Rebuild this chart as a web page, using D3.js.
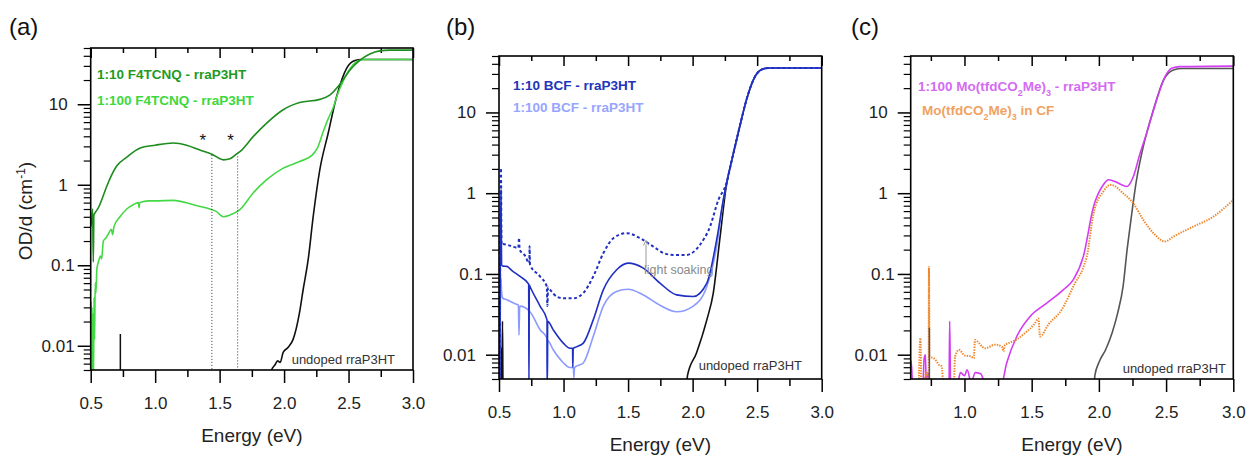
<!DOCTYPE html>
<html>
<head>
<meta charset="utf-8">
<script src="https://cdn.jsdelivr.net/npm/d3@7"></script>
<style>
  body { margin: 0; background: #fff; }
  svg { display: block; font-family: "Liberation Sans", Arial, sans-serif; }
</style>
</head>
<body>
<div id="chart"></div>
<script>
// ---- data: [energy (eV), OD/d (cm^-1)] ; values below 0.005 fall off the axis ----
const yTickValues = [0.01, 0.1, 1, 10];
const yTickLabels = ["0.01", "0.1", "1", "10"];
const xTicksAB = [0.5, 1.0, 1.5, 2.0, 2.5, 3.0];
const xTicksC = [1.0, 1.5, 2.0, 2.5, 3.0];

// (a) F4TCNQ
const f4tcnq10 = [[0.5,0.3],[0.508,0.37],[0.515,0.5],[0.52,0.11],[0.525,0.42],[0.535,0.45],[0.56,0.52],[0.6,0.75],[0.624,0.95],[0.66,1.3],[0.7,1.7],[0.78,2.2],[0.88,2.85],[1.0,3.1],[1.14,3.3],[1.244,3.1],[1.347,2.7],[1.44,2.4],[1.53,2.04],[1.58,2.1],[1.63,2.4],[1.66,2.6],[1.76,3.96],[1.863,5.8],[1.99,8.5],[2.12,10.5],[2.277,11.5],[2.354,13],[2.43,17.5],[2.51,26.5],[2.587,35],[2.665,42],[2.742,46],[2.82,47],[3.0,47]];
const f4tcnq100 = [[0.5,0.004],[0.503,0.035],[0.506,0.004],[0.51,0.03],[0.514,0.004],[0.518,0.025],[0.522,0.004],[0.526,0.04],[0.53,0.012],[0.535,0.06],[0.54,0.045],[0.548,0.09],[0.56,0.11],[0.575,0.13],[0.585,0.12],[0.598,0.2],[0.62,0.22],[0.64,0.25],[0.66,0.28],[0.67,0.24],[0.68,0.3],[0.727,0.4],[0.78,0.5],[0.83,0.565],[0.87,0.6],[0.875,0.52],[0.88,0.6],[0.95,0.63],[1.0,0.63],[1.14,0.64],[1.296,0.565],[1.425,0.5],[1.47,0.47],[1.53,0.4],[1.58,0.42],[1.657,0.49],[1.76,0.79],[1.863,1.15],[1.99,1.6],[2.12,1.94],[2.22,2.35],[2.26,2.9],[2.3,4.4],[2.34,6.5],[2.38,9],[2.42,14],[2.456,19],[2.5,26],[2.535,31],[2.57,34.5],[2.62,36],[3.0,36]];
const undopedA = [[1.9,0.004],[1.903,0.005],[1.93,0.0058],[1.95,0.0065],[1.97,0.0062],[1.993,0.0083],[2.03,0.0095],[2.07,0.012],[2.12,0.026],[2.148,0.05],[2.187,0.118],[2.226,0.405],[2.277,1.53],[2.342,4.37],[2.407,12.4],[2.485,28],[2.55,35],[2.6,36],[3.0,36]];
const spikesA = [[0.73, 0.014]];
const guidesA = [[1.44, 2.35], [1.64, 2.25]];
const starsA = [1.37, 1.585];

// (b) BCF
const bcf10 = [[0.505,0.004],[0.51,0.12],[0.515,1.1],[0.52,0.13],[0.53,0.125],[0.56,0.124],[0.6,0.11],[0.663,0.093],[0.73,0.075],[0.732,0.004],[0.735,0.073],[0.74,0.07],[0.818,0.04],[0.872,0.027],[0.874,0.004],[0.877,0.026],[0.92,0.0203],[0.998,0.0139],[1.05,0.012],[1.07,0.012],[1.072,0.007],[1.075,0.012],[1.1,0.0125],[1.153,0.0139],[1.23,0.027],[1.308,0.0636],[1.41,0.112],[1.5,0.136],[1.618,0.118],[1.747,0.077],[1.877,0.055],[2.005,0.0525],[2.11,0.077],[2.186,0.264],[2.238,0.83],[2.27,1.5],[2.31,2.84],[2.365,6.7],[2.417,14.3],[2.469,25],[2.52,32.9],[2.572,35.2],[2.62,35.5],[3.0,35.5]];
const bcf10Soaked = [[0.505,0.004],[0.51,0.2],[0.515,2.05],[0.52,0.23],[0.53,0.235],[0.56,0.23],[0.6,0.22],[0.65,0.21],[0.655,0.28],[0.66,0.2],[0.7,0.17],[0.735,0.135],[0.737,0.22],[0.74,0.13],[0.818,0.093],[0.87,0.07],[0.875,0.04],[0.88,0.068],[0.895,0.064],[0.95,0.052],[0.998,0.05],[1.076,0.05],[1.153,0.058],[1.23,0.093],[1.308,0.18],[1.386,0.277],[1.49,0.32],[1.593,0.277],[1.696,0.218],[1.78,0.18],[1.851,0.172],[1.954,0.172],[2.057,0.23],[2.135,0.386],[2.2,0.83],[2.26,1.3],[2.31,2.84],[2.365,6.7],[2.417,14.3],[2.469,25],[2.52,32.9],[2.572,35.2],[2.62,35.5],[3.0,35.5]];
const bcf100 = [[0.505,0.004],[0.512,0.07],[0.515,0.09],[0.52,0.06],[0.53,0.05],[0.56,0.048],[0.62,0.043],[0.65,0.041],[0.655,0.0175],[0.66,0.04],[0.74,0.034],[0.818,0.0204],[0.872,0.016],[0.874,0.004],[0.877,0.015],[0.92,0.0115],[1.0,0.0079],[1.04,0.007],[1.076,0.0069],[1.08,0.0052],[1.085,0.0069],[1.1,0.0072],[1.153,0.0079],[1.23,0.0168],[1.308,0.04],[1.41,0.0606],[1.5,0.0647],[1.618,0.055],[1.747,0.041],[1.877,0.034],[2.005,0.04],[2.11,0.07],[2.186,0.218],[2.238,0.83],[2.27,1.5],[2.31,2.84],[2.365,6.7],[2.417,14.3],[2.469,25],[2.52,32.9],[2.572,35.2],[2.62,35.5],[3.0,35.5]];
const undopedB = [[0.5,0.004],[0.505,0.008],[0.51,0.004],[0.518,0.012],[0.522,0.004],[0.527,0.026],[0.531,0.004],[1.953,0.004],[1.96,0.0055],[2.03,0.0105],[2.11,0.027],[2.16,0.058],[2.21,0.264],[2.26,1.2],[2.31,2.84],[2.365,6.7],[2.417,14.3],[2.469,25],[2.52,32.9],[2.572,35.2],[2.62,35.5],[3.0,35.5]];
const soakArrowB = [1.639, 0.12, 0.26];

// (c) Mo(tfdCO2Me)3
const moDoped = [[0.6,0.0085],[0.607,0.007],[0.615,0.004],[0.69,0.004],[0.7,0.009],[0.71,0.01],[0.715,0.004],[0.73,0.006],[0.75,0.004],[0.885,0.004],[0.89,0.026],[0.897,0.004],[0.95,0.0045],[0.97,0.006],[1.0,0.0055],[1.02,0.0065],[1.05,0.0045],[1.08,0.006],[1.12,0.0058],[1.15,0.0045],[1.17,0.004],[1.27,0.004],[1.314,0.0079],[1.389,0.0168],[1.488,0.0297],[1.612,0.0435],[1.735,0.0636],[1.81,0.085],[1.884,0.164],[1.96,0.68],[2.033,1.27],[2.07,1.47],[2.12,1.4],[2.157,1.3],[2.207,1.21],[2.256,1.6],[2.306,3.1],[2.355,5.5],[2.43,14.3],[2.492,27.7],[2.542,35.2],[2.6,36.9],[3.0,37.5]];
const moSolution = [[0.66,0.004],[0.672,0.016],[0.68,0.004],[0.7,0.005],[0.72,0.006],[0.733,0.004],[0.736,0.123],[0.74,0.009],[0.76,0.0092],[0.79,0.0084],[0.81,0.0075],[0.83,0.0072],[0.845,0.004],[0.92,0.004],[0.93,0.0095],[0.96,0.0115],[1.0,0.0098],[1.05,0.0095],[1.07,0.009],[1.078,0.0152],[1.153,0.012],[1.227,0.0133],[1.28,0.0125],[1.29,0.011],[1.3,0.013],[1.376,0.015],[1.45,0.0185],[1.525,0.0246],[1.55,0.028],[1.562,0.0168],[1.624,0.0236],[1.723,0.036],[1.822,0.077],[1.884,0.12],[1.91,0.164],[1.96,0.56],[2.033,1.05],[2.083,1.27],[2.107,1.25],[2.18,1.0],[2.256,0.75],[2.33,0.468],[2.418,0.305],[2.492,0.252],[2.554,0.29],[2.703,0.386],[2.852,0.513],[3.0,0.83]];
const undopedC = [[1.965,0.004],[1.97,0.0055],[2.0,0.008],[2.05,0.0115],[2.1,0.019],[2.14,0.033],[2.18,0.07],[2.21,0.2],[2.232,0.386],[2.28,1.46],[2.33,3.77],[2.405,10.7],[2.48,25],[2.554,33.6],[2.62,35],[3.0,35]];
const spikesC = [[0.739, 0.0215]];

const width = 1252, height = 456;
const svg = d3.select("#chart").append("svg")
    .attr("width", width)
    .attr("height", height);

const fmt = d3.format(".1f");

function drawPanel(p) {
    const x = d3.scaleLinear().domain(p.xDomain).range([p.left, p.right]);
    const y = d3.scaleLog().domain([0.005, 50]).range([p.bottom, p.top]);
    const g = svg.append("g");

    g.append("clipPath").attr("id", "clip-" + p.id)
        .append("rect")
        .attr("x", p.left).attr("y", p.top)
        .attr("width", p.right - p.left).attr("height", p.bottom - p.top);

    // minor x ticks every 0.25 eV
    const xMinor = d3.range(0.75, 3.0, 0.5).filter(v => v > p.xDomain[0]);
    const yMinor = [];
    [0.001, 0.01, 0.1, 1, 10].forEach(dec => {
        for (let k = 2; k <= 9; k++) {
            const v = dec * k;
            if (v >= 0.005 && v <= 50) yMinor.push(v);
        }
    });

    // bottom axis (outward)
    g.append("g").attr("transform", `translate(0,${p.bottom})`)
        .call(d3.axisBottom(x).tickValues(p.xTicks).tickSize(13).tickPadding(14).tickFormat(fmt))
        .call(a => a.select(".domain").remove())
        .call(a => a.selectAll("line").attr("stroke", "#000").attr("stroke-width", 1.5))
        .call(a => a.selectAll("text").attr("font-size", 17).attr("fill", "#222")
            .attr("font-family", "Liberation Sans, Arial, sans-serif"));
    g.append("g").attr("transform", `translate(0,${p.bottom})`)
        .call(d3.axisBottom(x).tickValues(xMinor).tickSize(7).tickFormat(""))
        .call(a => a.select(".domain").remove())
        .call(a => a.selectAll("line").attr("stroke", "#000").attr("stroke-width", 1.5));

    // top axis (inward)
    g.append("g").attr("transform", `translate(0,${p.top})`)
        .call(d3.axisBottom(x).tickValues(p.xTicks).tickSize(10).tickFormat(""))
        .call(a => a.select(".domain").remove())
        .call(a => a.selectAll("line").attr("stroke", "#000").attr("stroke-width", 1.5));
    g.append("g").attr("transform", `translate(0,${p.top})`)
        .call(d3.axisBottom(x).tickValues(xMinor).tickSize(5).tickFormat(""))
        .call(a => a.select(".domain").remove())
        .call(a => a.selectAll("line").attr("stroke", "#000").attr("stroke-width", 1.5));

    // left axis (outward, log)
    g.append("g").attr("transform", `translate(${p.left},0)`)
        .call(d3.axisLeft(y).tickValues(yTickValues).tickSize(13).tickPadding(10)
            .tickFormat((d, i) => yTickLabels[i]))
        .call(a => a.select(".domain").remove())
        .call(a => a.selectAll("line").attr("stroke", "#000").attr("stroke-width", 1.5))
        .call(a => a.selectAll("text").attr("font-size", 17).attr("fill", "#222")
            .attr("font-family", "Liberation Sans, Arial, sans-serif")
            .attr("dx", d => (p.shiftLabels.includes(d) ? 7 : 0)));
    g.append("g").attr("transform", `translate(${p.left},0)`)
        .call(d3.axisLeft(y).tickValues(yMinor).tickSize(7).tickFormat(""))
        .call(a => a.select(".domain").remove())
        .call(a => a.selectAll("line").attr("stroke", "#000").attr("stroke-width", 1.2));

    // curves
    const line = d3.line()
        .x(d => x(d[0]))
        .y(d => y(d[1]))
        .curve(d3.curveMonotoneX);
    const plot = g.append("g").attr("clip-path", `url(#clip-${p.id})`);
    p.series.forEach(s => {
        plot.append("path")
            .attr("d", line(s.data))
            .attr("fill", "none")
            .attr("stroke", s.color)
            .attr("stroke-width", s.width || 1.6)
            .attr("stroke-dasharray", s.dash || null)
            .attr("stroke-linejoin", "round");
    });
    (p.spikes || []).forEach(sp => {
        plot.append("line")
            .attr("x1", x(sp[0])).attr("x2", x(sp[0]))
            .attr("y1", p.bottom).attr("y2", y(sp[1]))
            .attr("stroke", p.spikeColor).attr("stroke-width", 1.5);
    });

    // frame
    g.append("rect")
        .attr("x", p.left).attr("y", p.top)
        .attr("width", p.right - p.left).attr("height", p.bottom - p.top)
        .attr("fill", "none").attr("stroke", "#000").attr("stroke-width", 1.6);

    // axis title + panel letter
    g.append("text")
        .attr("x", (p.left + p.right) / 2).attr("y", p.bottom + 72)
        .attr("text-anchor", "middle").attr("font-size", 19).attr("fill", "#222")
        .text("Energy (eV)");
    g.append("text")
        .attr("x", p.letterX).attr("y", 35)
        .attr("font-size", 24).attr("fill", "#111")
        .text(p.letter);

    // undoped label
    g.append("text")
        .attr("x", p.undoped[0]).attr("y", p.undoped[1])
        .attr("text-anchor", "end").attr("font-size", 13).attr("fill", "#333")
        .text("undoped rraP3HT");

    return { g, x, y, plot };
}

// ---- (a) ----
const A = drawPanel({
    id: "a", letter: "(a)", letterX: 9, undoped: [395, 363.5],
    left: 90.7, right: 413, top: 48, bottom: 370,
    xDomain: [0.5, 3.0], xTicks: xTicksAB, shiftLabels: [0.1, 0.01],
    spikeColor: "#111", spikes: spikesA,
    series: [
        { data: undopedA, color: "#111" },
        { data: f4tcnq100, color: "#45d845" },
        { data: f4tcnq10, color: "#1e8c1e" }
    ]
});
guidesA.forEach(gd => {
    A.g.append("line")
        .attr("x1", A.x(gd[0])).attr("x2", A.x(gd[0]))
        .attr("y1", A.y(gd[1])).attr("y2", 369)
        .attr("stroke", "#333").attr("stroke-width", 1)
        .attr("stroke-dasharray", "1,2");
});
starsA.forEach(e => {
    A.g.append("text")
        .attr("x", A.x(e)).attr("y", A.y(4) + 10)
        .attr("text-anchor", "middle").attr("font-size", 17).attr("fill", "#111")
        .text("*");
});
A.g.append("text").attr("x", 97).attr("y", 79).attr("font-size", 13.5)
    .attr("font-weight", "bold").attr("fill", "#1f9a1f").text("1:10 F4TCNQ - rraP3HT");
A.g.append("text").attr("x", 97).attr("y", 105).attr("font-size", 13.5)
    .attr("font-weight", "bold").attr("fill", "#3cd83c").text("1:100 F4TCNQ - rraP3HT");
svg.append("g").attr("transform", "translate(32,211) rotate(-90)")
    .append("text").attr("text-anchor", "middle").attr("font-size", 19).attr("fill", "#222")
    .call(t => {
        t.append("tspan").text("OD/d (cm");
        t.append("tspan").attr("font-size", 12).attr("baseline-shift", "super").text("-1");
        t.append("tspan").text(")");
    });

// ---- (b) ----
const B = drawPanel({
    id: "b", letter: "(b)", letterX: 446, undoped: [802, 370],
    left: 499, right: 821.7, top: 56, bottom: 379,
    xDomain: [0.5, 3.0], xTicks: xTicksAB, shiftLabels: [0.1],
    series: [
        { data: undopedB, color: "#111" },
        { data: bcf100, color: "#8c9aff" },
        { data: bcf10, color: "#1f2fc2" },
        { data: bcf10Soaked, color: "#1f2fc2", width: 2, dash: "3,2.5" }
    ]
});
B.g.append("line")
    .attr("x1", B.x(soakArrowB[0])).attr("x2", B.x(soakArrowB[0]))
    .attr("y1", B.y(soakArrowB[1])).attr("y2", B.y(soakArrowB[2]) + 4)
    .attr("stroke", "#999").attr("stroke-width", 1);
B.g.append("path")
    .attr("d", `M${B.x(soakArrowB[0]) - 2.5},${B.y(soakArrowB[2]) + 5} L${B.x(soakArrowB[0])},${B.y(soakArrowB[2])} L${B.x(soakArrowB[0]) + 2.5},${B.y(soakArrowB[2]) + 5}`)
    .attr("fill", "none").attr("stroke", "#999").attr("stroke-width", 1);
B.g.append("text").attr("x", 644).attr("y", 274).attr("font-size", 12.5)
    .attr("fill", "#8a8a8a").text("light soaking");
B.g.append("text").attr("x", 513).attr("y", 89.5).attr("font-size", 13.5)
    .attr("font-weight", "bold").attr("fill", "#2234bb").text("1:10 BCF - rraP3HT");
B.g.append("text").attr("x", 513).attr("y", 111.5).attr("font-size", 13.5)
    .attr("font-weight", "bold").attr("fill", "#98a5ff").text("1:100 BCF - rraP3HT");

// ---- (c) ----
const C = drawPanel({
    id: "c", letter: "(c)", letterX: 851, undoped: [1226, 372.5],
    left: 910.7, right: 1233.3, top: 56, bottom: 379,
    xDomain: [0.6, 3.0], xTicks: xTicksC, shiftLabels: [0.1],
    spikeColor: "#555", spikes: spikesC,
    series: [
        { data: undopedC, color: "#555" },
        { data: moDoped, color: "#d23df2" },
        { data: moSolution, color: "#f0862a", width: 2, dash: "1.4,1.2" }
    ]
});
function moText(t, head, tail) {
    t.append("tspan").text(head + "Mo(tfdCO");
    t.append("tspan").attr("font-size", 9).attr("baseline-shift", "sub").text("2");
    t.append("tspan").text("Me)");
    t.append("tspan").attr("font-size", 9).attr("baseline-shift", "sub").text("3");
    t.append("tspan").text(tail);
}
C.g.append("text").attr("x", 918).attr("y", 90.5).attr("font-size", 13.5)
    .attr("font-weight", "bold").attr("fill", "#d46cf2")
    .call(t => moText(t, "1:100 ", " - rraP3HT"));
C.g.append("text").attr("x", 922).attr("y", 115).attr("font-size", 13.5)
    .attr("font-weight", "bold").attr("fill", "#f0a262")
    .call(t => moText(t, "", " in CF"));
</script>
</body>
</html>
